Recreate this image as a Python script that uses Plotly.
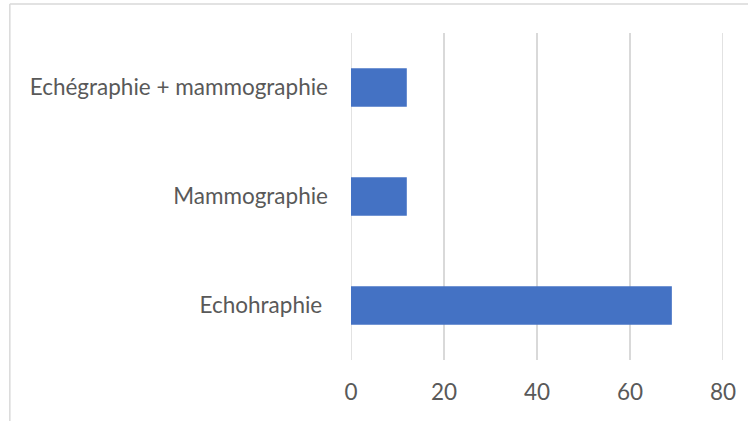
import plotly.graph_objects as go

categories = ["Echohraphie ", "Mammographie", "Echégraphie + mammographie"]
values = [69, 12, 12]
x_ticks = [0, 20, 40, 60, 80]

W, H = 748, 421
L, R, T, B = 351, 23, 33, 61
pw, ph = W - L - R, H - T - B

fig = go.Figure(go.Bar(
    y=categories, x=values, orientation="h",
    marker=dict(color="#4472C4", line=dict(width=0)),
    width=0.355,
    hoverinfo="skip",
))

def px_x(p):
    return (p - L) / pw

def px_y(p):
    return 1 - (p - T) / ph

grid_shapes = [
    dict(type="line", xref="x", yref="paper", x0=t, x1=t, y0=0, y1=1,
         line=dict(color="#d9d9d9", width=1.5), layer="below")
    for t in (x_ticks[0], x_ticks[-1])
]

fig.update_layout(
    width=W, height=H,
    margin=dict(l=L, r=R, t=T, b=B),
    paper_bgcolor="white", plot_bgcolor="white",
    showlegend=False,
    font=dict(family="Lato, Calibri, sans-serif", size=22.5, color="#595959"),
    xaxis=dict(range=[0, 80], tickvals=x_ticks, showgrid=True, gridcolor="#d9d9d9",
               gridwidth=1.5, zeroline=False, showline=False, ticks="",
               ticklabelstandoff=16, fixedrange=True),
    yaxis=dict(categoryorder="array", categoryarray=categories, showgrid=False,
               zeroline=False, showline=False, ticks="", ticklabelstandoff=22,
               fixedrange=True),
    shapes=grid_shapes + [
        dict(type="line", xref="paper", yref="paper", x0=px_x(8), x1=px_x(760),
             y0=px_y(4), y1=px_y(4), line=dict(color="#d9d9d9", width=1.5)),
        dict(type="line", xref="paper", yref="paper", x0=px_x(8), x1=px_x(8),
             y0=px_y(4), y1=px_y(430), line=dict(color="#d9d9d9", width=1.5)),
    ],
)

fig.write_html("out.html", config={"displayModeBar": False},
               post_script="document.body.style.margin='0';document.body.style.overflow='hidden';")
